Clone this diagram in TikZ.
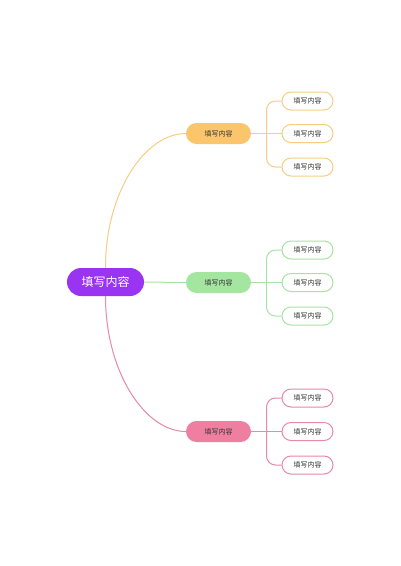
\documentclass[tikz,border=0pt]{standalone}
\usepackage{fontspec}
\setmainfont{Noto Sans CJK SC}
\definecolor{rootc}{HTML}{9A34F3}
\definecolor{orf}{HTML}{FBC56B}
\definecolor{orl}{HTML}{F6CD85}
\definecolor{grf}{HTML}{A4E5A0}
\definecolor{grl}{HTML}{A9E2A5}
\definecolor{pkf}{HTML}{EF7FA1}
\definecolor{pkl}{HTML}{E58AA8}
\definecolor{txt}{HTML}{333333}
\tikzset{
  rootbox/.style={fill=rootc, text=white, rounded corners=14pt, minimum width=77pt, minimum height=28pt, inner sep=0pt, font=\fontsize{12}{12}\selectfont},
  mainbox/.style={fill=#1, text=txt, rounded corners=10.5pt, minimum width=65pt, minimum height=21pt, inner sep=0pt, font=\fontsize{7}{7}\selectfont},
  leafbox/.style={draw=#1, line width=1pt, fill=white, text=txt, rounded corners=9pt, minimum width=51pt, minimum height=18pt, inner sep=0pt, font=\fontsize{7}{7}\selectfont},
  conn/.style={draw=#1, line width=1pt},
}
\begin{document}
\begin{tikzpicture}[x=1pt,y=-1pt]
\useasboundingbox[fill=white] (0,0) rectangle (400,566);
\node[rootbox] (root) at (105.5,282) {填写内容};
\node[mainbox=orf] (m1) at (218.5,133.5) {填写内容};
\node[mainbox=grf] (m2) at (218.5,282.5) {填写内容};
\node[mainbox=pkf] (m3) at (218.5,431.5) {填写内容};
% leaves
\node[leafbox=orl] (a1) at (307.5,101) {填写内容};
\node[leafbox=orl] (a2) at (307.5,133.5) {填写内容};
\node[leafbox=orl] (a3) at (307.5,167) {填写内容};
\node[leafbox=grl] (b1) at (307.5,250) {填写内容};
\node[leafbox=grl] (b2) at (307.5,282.5) {填写内容};
\node[leafbox=grl] (b3) at (307.5,316) {填写内容};
\node[leafbox=pkl] (c1) at (307.5,398) {填写内容};
\node[leafbox=pkl] (c2) at (307.5,431.5) {填写内容};
\node[leafbox=pkl] (c3) at (307.5,465) {填写内容};
% root connectors
\draw[conn=orl] (root.north) .. controls (105.5,192) and (145,133.5) .. (m1.west);
\draw[conn=grl] (root.east) -- (m2.west);
\draw[conn=pkl] (root.south) .. controls (105.5,372) and (145,431.5) .. (m3.west);
% branches
\draw[conn=orl] (m1.east) -- (a2.west);
\draw[conn=orl, rounded corners=9pt] (a1.west) -- ++(-15,0) |- (a3.west);
\draw[conn=grl] (m2.east) -- (b2.west);
\draw[conn=grl, rounded corners=9pt] (b1.west) -- ++(-15,0) |- (b3.west);
\draw[conn=pkl] (m3.east) -- (c2.west);
\draw[conn=pkl, rounded corners=9pt] (c1.west) -- ++(-15,0) |- (c3.west);
\end{tikzpicture}
\end{document}
